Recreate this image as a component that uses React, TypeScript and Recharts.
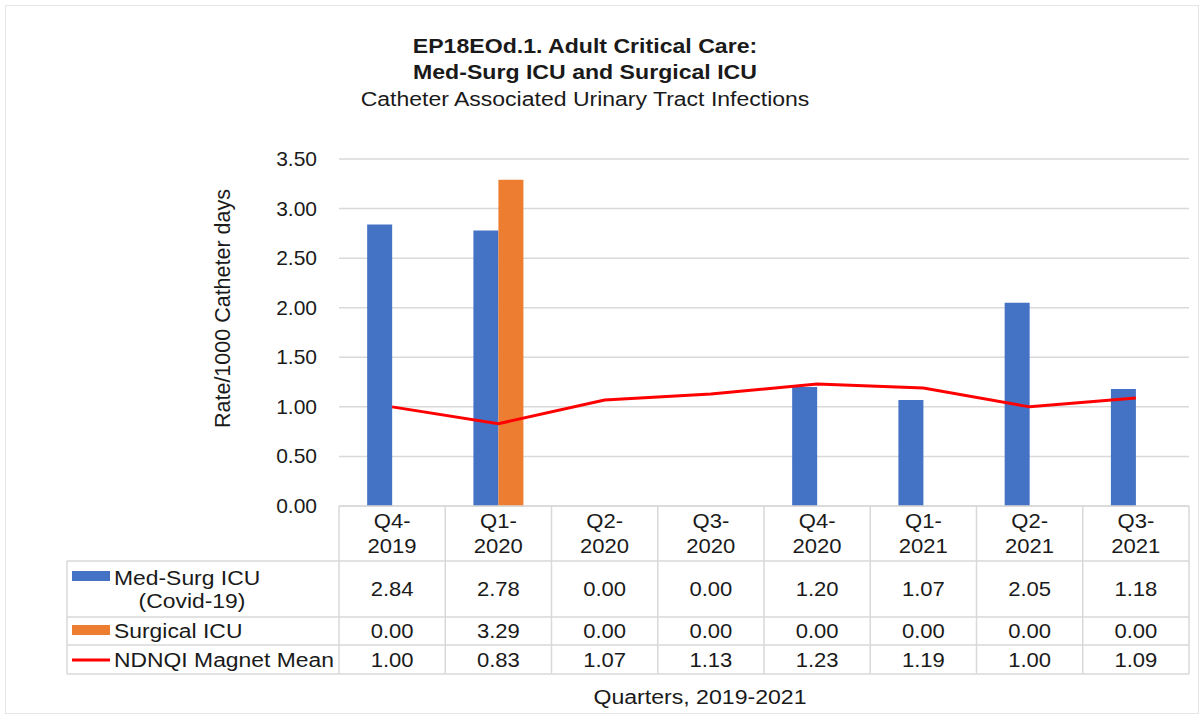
import { ComposedChart, Bar, Line, XAxis, YAxis, CartesianGrid } from 'recharts';

const quarters = ['Q4-2019', 'Q1-2020', 'Q2-2020', 'Q3-2020', 'Q4-2020', 'Q1-2021', 'Q2-2021', 'Q3-2021'];
const medSurgIcu = [2.84, 2.78, 0.0, 0.0, 1.2, 1.07, 2.05, 1.18];
const surgicalIcu = [0.0, 3.29, 0.0, 0.0, 0.0, 0.0, 0.0, 0.0];
const magnetMean = [1.0, 0.83, 1.07, 1.13, 1.23, 1.19, 1.0, 1.09];
const yTicks = [0, 0.5, 1, 1.5, 2, 2.5, 3, 3.5];

const data = quarters.map((q, i) => ({
  quarter: q,
  medSurg: medSurgIcu[i],
  surgical: surgicalIcu[i],
  magnet: magnetMean[i],
}));

const WIDTH = 1204;
const HEIGHT = 719;
const MARGIN = { top: 159, right: 15, left: 0, bottom: 0 };
const Y_AXIS_WIDTH = 339;
const X_AXIS_HEIGHT = 213;
const COL_W = (WIDTH - MARGIN.right - Y_AXIS_WIDTH) / quarters.length;

const BLUE = '#4472C4';
const ORANGE = '#ED7D31';
const RED = '#FF0000';
const GRID = '#d9d9d9';
const TEXT = '#1a1a1a';
const FONT = '"Liberation Sans", Arial, sans-serif';

// table rows (relative to axis line)
const ROW_HEADER = 55;
const ROW1 = 111;
const ROW2 = 139;
const ROW3 = 168;
const TABLE_LEFT = 67;

// slightly wide text, like the source rendering
function WText({ x, y, anchor = 'middle', sx = 1.05, size = 21, children }: any) {
  return (
    <text
      transform={`translate(${x},${y}) scale(${sx},1)`}
      textAnchor={anchor}
      fontSize={size}
      fontFamily={FONT}
      fill={TEXT}
    >
      {children}
    </text>
  );
}

function TableTick(props: any) {
  const { x, y, index, payload } = props;
  const y0 = y;
  const left = x - COL_W / 2;
  const right = x + COL_W / 2;
  const [q, yr] = String(payload.value).split('-');
  const last = index === quarters.length - 1;
  const rows = [ROW_HEADER, ROW1, ROW2, ROW3];
  return (
    <g>
      <line x1={left} y1={y0} x2={left} y2={y0 + ROW3} stroke={GRID} strokeWidth={1.5} />
      {last && <line x1={right} y1={y0} x2={right} y2={y0 + ROW3} stroke={GRID} strokeWidth={1.5} />}
      {index === 0 && (
        <g>
          {rows.map((r) => (
            <line key={r} x1={TABLE_LEFT} y1={y0 + r} x2={left} y2={y0 + r} stroke={GRID} strokeWidth={1.5} />
          ))}
          <line x1={TABLE_LEFT} y1={y0 + ROW_HEADER} x2={TABLE_LEFT} y2={y0 + ROW3} stroke={GRID} strokeWidth={1.5} />
          <rect x={72} y={y0 + 65} width={38} height={10} fill={BLUE} />
          <WText x={114} y={y0 + 79} anchor="start" sx={1.09}>Med-Surg ICU</WText>
          <WText x={192} y={y0 + 102} sx={1.09}>(Covid-19)</WText>
          <rect x={72} y={y0 + 119} width={38} height={10} fill={ORANGE} />
          <WText x={114} y={y0 + 132} anchor="start" sx={1.09}>Surgical ICU</WText>
          <line x1={72} y1={y0 + 154} x2={110} y2={y0 + 154} stroke={RED} strokeWidth={3} />
          <WText x={114} y={y0 + 161} anchor="start" sx={1.09}>NDNQI Magnet Mean</WText>
          <WText x={700} y={y0 + 198} sx={1.1}>Quarters, 2019-2021</WText>
        </g>
      )}
      {rows.map((r) => (
        <line key={r} x1={left} y1={y0 + r} x2={right} y2={y0 + r} stroke={GRID} strokeWidth={1.5} />
      ))}
      <WText x={x} y={y0 + 22}>{q}-</WText>
      <WText x={x} y={y0 + 47}>{yr}</WText>
      <WText x={x} y={y0 + 90}>{medSurgIcu[index].toFixed(2)}</WText>
      <WText x={x} y={y0 + 132}>{surgicalIcu[index].toFixed(2)}</WText>
      <WText x={x} y={y0 + 161}>{magnetMean[index].toFixed(2)}</WText>
    </g>
  );
}

function YTick(props: any) {
  const { x, y, payload } = props;
  return (
    <WText x={x} y={y + 7} anchor="end" sx={1}>
      {Number(payload.value).toFixed(2)}
    </WText>
  );
}

export default function App() {
  return (
    <div style={{ position: 'absolute', left: 0, top: 0, width: WIDTH, height: HEIGHT, background: '#fff' }}>
      <div
        style={{
          position: 'absolute',
          left: 5,
          top: 5,
          width: WIDTH - 12,
          height: HEIGHT - 12,
          border: '1px solid #e6e6e6',
        }}
      />
      <div
        style={{
          position: 'absolute',
          top: 33,
          left: 0,
          width: 1170,
          textAlign: 'center',
          fontFamily: FONT,
          color: TEXT,
        }}
      >
        <div style={{ fontWeight: 'bold', fontSize: 21, lineHeight: '26px', transform: 'scaleX(1.1)' }}>
          EP18EOd.1. Adult Critical Care:
        </div>
        <div style={{ fontWeight: 'bold', fontSize: 21, lineHeight: '26px', transform: 'scaleX(1.1)' }}>
          Med-Surg ICU and Surgical ICU
        </div>
        <div style={{ fontSize: 20, lineHeight: '29px', transform: 'scaleX(1.15)' }}>
          Catheter Associated Urinary Tract Infections
        </div>
      </div>
      <ComposedChart
        width={WIDTH}
        height={HEIGHT}
        data={data}
        margin={MARGIN}
        barCategoryGap="26.5%"
        barGap={0}
        style={{ position: 'absolute', left: 0, top: 0 }}
      >
        <CartesianGrid vertical={false} stroke={GRID} strokeWidth={1.5} />
        <XAxis
          dataKey="quarter"
          height={X_AXIS_HEIGHT}
          interval={0}
          tickLine={false}
          tickSize={0}
          tickMargin={0}
          axisLine={{ stroke: GRID, strokeWidth: 1.5 }}
          tick={<TableTick />}
        />
        <YAxis
          width={Y_AXIS_WIDTH}
          domain={[0, 3.5]}
          ticks={yTicks}
          axisLine={false}
          tickLine={false}
          tickSize={0}
          tickMargin={22}
          tick={<YTick />}
          label={{
            value: 'Rate/1000 Catheter days',
            angle: -90,
            position: 'insideLeft',
            offset: 222,
            dy: -24,
            fill: TEXT,
            fontSize: 21.5,
            fontFamily: FONT,
            style: { textAnchor: 'middle' },
          }}
        />
        <Bar dataKey="medSurg" fill={BLUE} isAnimationActive={false} />
        <Bar dataKey="surgical" fill={ORANGE} isAnimationActive={false} />
        <Line
          dataKey="magnet"
          type="linear"
          stroke={RED}
          strokeWidth={3}
          dot={false}
          activeDot={false}
          isAnimationActive={false}
        />
      </ComposedChart>
    </div>
  );
}
